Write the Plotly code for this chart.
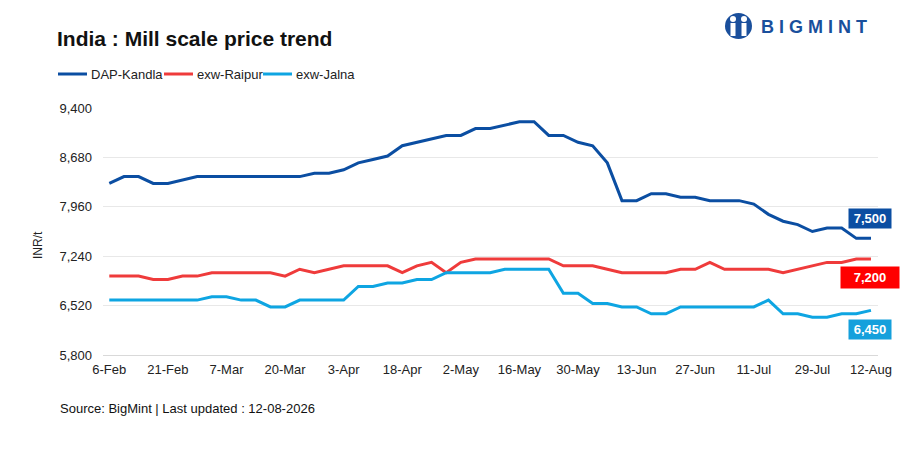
import plotly.graph_objects as go

# twice-weekly assessment dates
dates = [
    "6-Feb", "10-Feb", "13-Feb", "17-Feb", "21-Feb", "24-Feb", "28-Feb",
    "3-Mar", "7-Mar", "10-Mar", "14-Mar", "17-Mar", "20-Mar", "24-Mar", "27-Mar", "31-Mar",
    "3-Apr", "7-Apr", "10-Apr", "14-Apr", "18-Apr", "21-Apr", "25-Apr", "28-Apr",
    "2-May", "5-May", "9-May", "12-May", "16-May", "19-May", "23-May", "26-May", "30-May",
    "2-Jun", "6-Jun", "9-Jun", "13-Jun", "16-Jun", "20-Jun", "23-Jun", "27-Jun", "30-Jun",
    "4-Jul", "7-Jul", "11-Jul", "15-Jul", "20-Jul", "25-Jul", "29-Jul",
    "1-Aug", "5-Aug", "8-Aug", "12-Aug",
]

dap_kandla = [
    8300, 8400, 8400, 8300, 8300, 8350, 8400, 8400, 8400, 8400, 8400, 8400, 8400, 8400,
    8450, 8450, 8500, 8600, 8650, 8700, 8850, 8900, 8950, 9000, 9000, 9100, 9100, 9150,
    9200, 9200, 9000, 9000, 8900, 8850, 8600, 8050, 8050, 8150, 8150, 8100, 8100, 8050,
    8050, 8050, 8000, 7850, 7750, 7700, 7600, 7650, 7650, 7500, 7500,
]
exw_raipur = [
    6950, 6950, 6950, 6900, 6900, 6950, 6950, 7000, 7000, 7000, 7000, 7000, 6950, 7050,
    7000, 7050, 7100, 7100, 7100, 7100, 7000, 7100, 7150, 7000, 7150, 7200, 7200, 7200,
    7200, 7200, 7200, 7100, 7100, 7100, 7050, 7000, 7000, 7000, 7000, 7050, 7050, 7150,
    7050, 7050, 7050, 7050, 7000, 7050, 7100, 7150, 7150, 7200, 7200,
]
exw_jalna = [
    6600, 6600, 6600, 6600, 6600, 6600, 6600, 6650, 6650, 6600, 6600, 6500, 6500, 6600,
    6600, 6600, 6600, 6800, 6800, 6850, 6850, 6900, 6900, 7000, 7000, 7000, 7000, 7050,
    7050, 7050, 7050, 6700, 6700, 6550, 6550, 6500, 6500, 6400, 6400, 6500, 6500, 6500,
    6500, 6500, 6500, 6600, 6400, 6400, 6350, 6350, 6400, 6400, 6450,
]

tick_labels = ["6-Feb", "21-Feb", "7-Mar", "20-Mar", "3-Apr", "18-Apr", "2-May", "16-May",
               "30-May", "13-Jun", "27-Jun", "11-Jul", "29-Jul", "12-Aug"]
y_ticks = [5800, 6520, 7240, 7960, 8680, 9400]

series = [
    ("DAP-Kandla", dap_kandla, "#0b4ea2", "#0b4ea2"),
    ("exw-Raipur", exw_raipur, "#ef3b3b", "#ff0000"),
    ("exw-Jalna", exw_jalna, "#0ea5e2", "#15a0dc"),
]

FONT = "Liberation Sans, Arial, sans-serif"

# page body adds an 8px margin, so the figure is drawn 8px smaller/shifted
OFF = 8
W, H = 908 - 2 * OFF, 456 - 2 * OFF
# plot area in screenshot pixels: x 103..878, y 108..355
L, R, T, B = 103, 878, 108, 355


def px(x):
    return (x - L) / (R - L)


def py(y):
    return (B - y) / (B - T)


fig = go.Figure()
for name, vals, color, _ in series:
    fig.add_trace(go.Scatter(
        x=dates, y=vals, name=name, mode="lines",
        line=dict(color=color, width=3),
    ))

# legend drawn by hand so the entries sit tight like the original
legend_pos = {"DAP-Kandla": 58, "exw-Raipur": 164, "exw-Jalna": 263}
for name, _, color, _ in series:
    x0 = legend_pos[name]
    fig.add_shape(type="line", xref="paper", yref="paper",
                  x0=px(x0), x1=px(x0 + 29), y0=py(74), y1=py(74),
                  line=dict(color=color, width=3))
    fig.add_annotation(
        x=px(x0 + 31), y=py(74), xref="paper", yref="paper",
        xanchor="left", yanchor="middle", text=name, showarrow=False,
        font=dict(family=FONT, size=13, color="#222222"),
    )

# end-value labels
label_y = {"DAP-Kandla": 218, "exw-Raipur": 277, "exw-Jalna": 329}
label_w = {"DAP-Kandla": 36, "exw-Raipur": 52, "exw-Jalna": 36}
for name, vals, _, box in series:
    fig.add_annotation(
        x=px(870), y=py(label_y[name]), xref="paper", yref="paper",
        xanchor="center", yanchor="middle",
        text=f"<b>{vals[-1]:,}</b>", showarrow=False,
        font=dict(family=FONT, size=13, color="white"),
        bgcolor=box, borderpad=3, width=label_w[name],
        height=15 if name == "exw-Raipur" else 13,
    )

fig.add_annotation(
    x=px(55), y=py(38), xref="paper", yref="paper", xanchor="left", yanchor="middle",
    text="<b>India : Mill scale price trend</b>", showarrow=False,
    font=dict(family=FONT, size=21, color="#111111"),
)
fig.add_annotation(
    x=px(58), y=py(408), xref="paper", yref="paper", xanchor="left", yanchor="middle",
    text="Source: BigMint | Last updated : 12-08-2026", showarrow=False,
    font=dict(family=FONT, size=13, color="#111111"),
)
fig.add_annotation(
    x=px(38), y=py(245), xref="paper", yref="paper", xanchor="center", yanchor="middle",
    text="INR/t", showarrow=False, textangle=-90,
    font=dict(family=FONT, size=12, color="#222222"),
)

# logo
fig.add_shape(type="circle", xref="paper", yref="paper",
              x0=px(725), x1=px(752), y0=py(13), y1=py(39),
              fillcolor="#1a4f9c", line=dict(width=0))
for cx in (733, 744):
    fig.add_shape(type="circle", xref="paper", yref="paper",
                  x0=px(cx - 3), x1=px(cx + 3), y0=py(16), y1=py(22),
                  fillcolor="white", line=dict(width=0))
    fig.add_shape(type="rect", xref="paper", yref="paper",
                  x0=px(cx - 2.5), x1=px(cx + 2.5), y0=py(23), y1=py(36),
                  fillcolor="white", line=dict(width=0))
fig.add_annotation(
    x=px(759), y=py(27), xref="paper", yref="paper", xanchor="left", yanchor="middle",
    text="<b>B I G M I N T</b>", showarrow=False,
    font=dict(family=FONT, size=18, color="#1a4f9c"),
)

fig.update_layout(
    width=W, height=H,
    margin=dict(l=L - OFF, r=W - (R - OFF), t=T - OFF, b=H - (B - OFF), autoexpand=False),
    paper_bgcolor="white", plot_bgcolor="white",
    font=dict(family=FONT, size=13, color="#222222"),
    showlegend=False,
)
fig.update_xaxes(
    type="category", range=[-0.43, 52.48],
    tickmode="array", tickvals=tick_labels, ticktext=tick_labels,
    showgrid=False, showline=True, linecolor="#d9d9d9", linewidth=1,
    ticks="", tickfont=dict(size=13, color="#222222"), ticklabelstandoff=2,
    automargin=False,
)
fig.update_yaxes(
    range=[5800, 9400], tickvals=y_ticks, tickformat=",",
    showgrid=True, gridcolor="#e8e8e8", gridwidth=1, zeroline=False,
    showline=False, ticks="", tickfont=dict(size=13, color="#222222"),
    ticklabelstandoff=10, automargin=False,
)

fig.write_html("out.html")
